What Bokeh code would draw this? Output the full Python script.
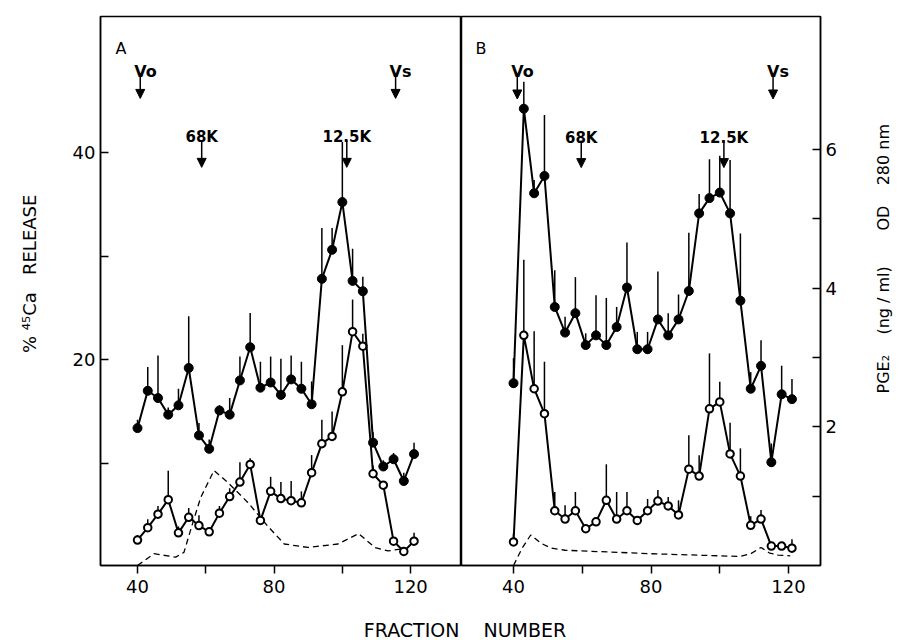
from bokeh.plotting import figure
from bokeh.layouts import row, column
from bokeh.models import Range1d, FixedTicker, Arrow, NormalHead, Title
from bokeh.core.properties import value
from bokeh.embed import file_html
from bokeh.resources import INLINE

FONT = "DejaVu Sans"

# ---------------- data ----------------
fraction = [40, 43, 46, 49, 52, 55, 58, 61, 64, 67, 70, 73, 76, 79,
            82, 85, 88, 91, 94, 97, 100, 103, 106, 109, 112, 115, 118, 121]

# Panel A (% 45Ca release)
a_filled = [13.4, 17.0, 16.3, 14.7, 15.6, 19.2, 12.7, 11.4, 15.1, 14.7, 18.0, 21.2, 17.3, 17.8,
            16.6, 18.1, 17.2, 15.7, 27.8, 30.6, 35.2, 27.6, 26.6, 12.0, 9.7, 10.4, 8.3, 10.9]
a_filled_top = [14.2, 19.3, 20.4, 15.4, 17.2, 24.2, 13.9, 12.3, 15.6, 16.3, 20.3, 24.5, 19.8, 20.3,
                20.1, 20.4, 19.8, 17.9, 32.7, 32.7, 41.0, 30.7, 28.0, 13.0, 10.3, 11.0, 9.1, 12.0]
a_open = [2.6, 3.8, 5.1, 6.5, 3.3, 4.8, 4.0, 3.4, 5.2, 6.8, 8.2, 9.9, 4.5, 7.3,
          6.6, 6.4, 6.2, 9.1, 11.9, 12.6, 16.9, 22.7, 21.3, 9.0, 7.9, 2.5, 1.5, 2.5]
a_open_top = [3.1, 4.6, 5.9, 9.3, 3.9, 5.7, 5.0, 3.4, 5.9, 7.6, 10.1, 10.5, 4.5, 8.7,
              8.2, 8.3, 7.3, 10.8, 14.2, 15.0, 21.4, 25.8, 22.5, 9.8, 7.9, 2.5, 1.5, 3.3]
# OD 280 nm trace in panel A
od_a_x = [40, 44.8, 51.2, 53.6, 56.1, 58.5, 62.4, 66.4, 72.3, 78.1, 83, 89.9, 98.7, 104.8, 109.5, 113.4, 117.4]
od_a = [0.0, 0.17, 0.12, 0.19, 0.60, 0.98, 1.37, 1.20, 0.91, 0.57, 0.31, 0.26, 0.31, 0.46, 0.26, 0.21, 0.24]

# Panel B (PGE2 ng/ml)
b_filled = [2.63, 6.59, 5.37, 5.62, 3.73, 3.36, 3.64, 3.18, 3.32, 3.18, 3.44, 4.01, 3.12, 3.12,
            3.55, 3.32, 3.55, 3.96, 5.08, 5.30, 5.38, 5.08, 3.82, 2.55, 2.88, 1.49, 2.47, 2.40]
b_filled_top = [2.99, 6.98, 5.56, 6.50, 4.26, 3.59, 4.16, 3.35, 3.90, 3.86, 3.73, 4.66, 3.37, 3.37,
                4.24, 3.64, 3.91, 4.80, 5.36, 5.86, 5.91, 5.85, 4.79, 2.79, 3.25, 1.76, 2.88, 2.69]
b_open = [0.34, 3.32, 2.55, 2.19, 0.79, 0.67, 0.79, 0.53, 0.63, 0.94, 0.67, 0.79, 0.65, 0.79,
          0.93, 0.86, 0.73, 1.39, 1.29, 2.26, 2.36, 1.61, 1.29, 0.58, 0.67, 0.28, 0.28, 0.25]
b_open_top = [0.46, 4.41, 3.38, 2.94, 1.06, 0.87, 1.06, 0.53, 0.63, 1.46, 1.06, 1.06, 0.65, 0.96,
              1.09, 0.99, 0.94, 1.88, 1.59, 3.06, 2.65, 2.06, 1.69, 0.71, 0.80, 0.28, 0.28, 0.38]
od_b_x = [40, 42.5, 45, 48, 51, 55, 80, 106, 109, 112, 114.5, 117, 120.5]
od_b = [0.0, 0.25, 0.44, 0.32, 0.25, 0.22, 0.17, 0.13, 0.17, 0.26, 0.18, 0.15, 0.14]

# Calibration markers (fraction positions)
marker_names = ["Vo", "68K", "12.5K", "Vs"]
marker_a_x = [40.8, 58.8, 101.3, 115.6]
marker_b_x = [41.1, 59.7, 101.2, 115.5]

x_ticks = [40, 60, 80, 100, 120]
a_y_ticks = [10, 20, 30, 40]
b_y_ticks = [1, 2, 3, 4, 5, 6]

NB = "\u00a0"
TOP, BOTTOM, H = 16, 50, 615


def style_axes(p, yticks, ylabels_hidden, xhide):
    for ax in p.xaxis:
        ax.ticker = FixedTicker(ticks=x_ticks)
        ax.major_label_overrides = {v: "" for v in xhide}
        ax.major_tick_in = 0
        ax.major_tick_out = 8
        ax.minor_tick_line_color = None
        ax.major_label_standoff = 6
        ax.major_label_text_font = FONT
        ax.major_label_text_font_size = "18px"
        ax.major_label_text_color = "black"
        ax.axis_line_width = 1.5
        ax.major_tick_line_width = 1.5
    for ax in p.yaxis:
        ax.ticker = FixedTicker(ticks=yticks)
        ax.major_label_overrides = {v: "" for v in ylabels_hidden}
        ax.major_tick_in = 8
        ax.major_tick_out = 0
        ax.minor_tick_line_color = None
        ax.major_label_standoff = 5
        ax.major_label_text_font = FONT
        ax.major_label_text_font_size = "18px"
        ax.major_label_text_color = "black"
        ax.axis_line_width = 1.5
        ax.major_tick_line_width = 1.5
    p.xgrid.grid_line_color = None
    p.ygrid.grid_line_color = None
    p.outline_line_color = "black"
    p.outline_line_width = 1.5
    p.outline_line_alpha = 1.0
    p.background_fill_color = "white"
    p.border_fill_color = "white"


def draw_series(p, y, top, filled):
    p.segment(x0=fraction, y0=y, x1=fraction, y1=top, line_color="black", line_width=1.5)
    p.line(fraction, y, line_color="black", line_width=2)
    if filled:
        p.scatter(fraction, y, marker="circle", size=9, fill_color="black", line_color="black")
    else:
        p.scatter(fraction, y, marker="circle", size=7.5, fill_color="white",
                  line_color="black", line_width=2)


def draw_markers(p, xs, y_text_hi, y_text_lo, arr_hi, arr_lo):
    for name, x in zip(marker_names, xs):
        if name in ("Vo", "Vs"):
            p.text(x=[x], y=[y_text_hi], text=[name], text_font=value(FONT),
                   text_font_size="16px", text_font_style="bold", text_align="left",
                   x_offset=-6, text_baseline="alphabetic", text_color="black")
            ys, ye = arr_hi
        else:
            p.text(x=[x], y=[y_text_lo], text=[name], text_font=value(FONT),
                   text_font_size="15px", text_font_style="bold", text_align="center",
                   text_baseline="alphabetic", text_color="black")
            ys, ye = arr_lo
        p.add_layout(Arrow(end=NormalHead(size=9, fill_color="black", line_color="black"),
                           x_start=x, y_start=ys, x_end=x, y_end=ye,
                           line_color="black", line_width=1.5))


# ---------------- Panel A ----------------
pa = figure(width=461, height=H, x_range=Range1d(29.16, 134.9), y_range=Range1d(0.15, 53.1),
            output_backend="svg", toolbar_location=None,
            min_border_left=100, min_border_right=0, min_border_top=TOP, min_border_bottom=BOTTOM)
pa.extra_y_ranges = {"od": Range1d(0, 7.92)}
style_axes(pa, a_y_ticks, [10, 30], [60, 100])
pa.yaxis.axis_label = NB * 6 + "%" + NB + "\u2074\u2075Ca" + NB * 3 + "RELEASE"
pa.yaxis.axis_label_text_font = FONT
pa.yaxis.axis_label_text_font_size = "18px"
pa.yaxis.axis_label_text_font_style = "normal"
pa.yaxis.axis_label_text_color = "black"
pa.yaxis.axis_label_standoff = 30

pa.line(od_a_x, od_a, y_range_name="od", line_color="black", line_width=1.3, line_dash="6 4")
draw_series(pa, a_open, a_open_top, filled=False)
draw_series(pa, a_filled, a_filled_top, filled=True)
draw_markers(pa, marker_a_x, 47.81, 41.45, (47.52, 45.2), (41.16, 38.55))
pa.text(x=[33.55], y=[50.03], text=["A"], text_font=value(FONT), text_font_size="16px",
        text_align="left", text_baseline="alphabetic", text_color="black")

# ---------------- Panel B ----------------
pb = figure(width=405, height=H, x_range=Range1d(24.87, 129.3), y_range=Range1d(0, 7.92),
            y_axis_location="right", output_backend="svg", toolbar_location=None,
            min_border_left=0, min_border_right=46, min_border_top=TOP, min_border_bottom=BOTTOM)
style_axes(pb, b_y_ticks, [1, 3, 5], [60, 100])

pb.line(od_b_x, od_b, line_color="black", line_width=1.3, line_dash="6 4")
draw_series(pb, b_open, b_open_top, filled=False)
draw_series(pb, b_filled, b_filled_top, filled=True)
draw_markers(pb, marker_b_x, 7.12, 6.17, (7.08, 6.73), (6.13, 5.74))
pb.text(x=[28.95], y=[7.46], text=["B"], text_font=value(FONT), text_font_size="16px",
        text_align="left", text_baseline="alphabetic", text_color="black")

# ---------------- right-hand axis title (reads bottom to top) ----------------
pc = figure(width=34, height=H, x_axis_location=None, y_axis_location=None,
            output_backend="svg", toolbar_location=None,
            min_border_left=0, min_border_right=0, min_border_top=TOP, min_border_bottom=BOTTOM)
pc.outline_line_color = None
pc.xgrid.grid_line_color = None
pc.ygrid.grid_line_color = None
pc.add_layout(Title(text="PGE\u2082" + NB * 4 + "(ng / ml)" + NB * 7 + "OD" + NB * 4 + "280 nm",
                    align="left", offset=172 - 0, standoff=10,
                    text_font=FONT, text_font_size="16px", text_font_style="normal",
                    text_color="black"), "left")

# ---------------- shared x-axis title strip ----------------
pd = figure(width=900, height=25, x_range=Range1d(0, 900), y_range=Range1d(0, 25),
            x_axis_location=None, y_axis_location=None, output_backend="svg",
            toolbar_location=None, min_border=0)
pd.outline_line_color = None
pd.xgrid.grid_line_color = None
pd.ygrid.grid_line_color = None
pd.text(x=[459, 483], y=[10.3, 10.3], text=["FRACTION", "NUMBER"], text_font=value(FONT),
        text_font_size="19px", text_align=["right", "left"], text_baseline="middle",
        text_color="black")

layout = column(row(pa, pb, pc), pd)
open("out.html", "w").write(file_html(layout, INLINE))
